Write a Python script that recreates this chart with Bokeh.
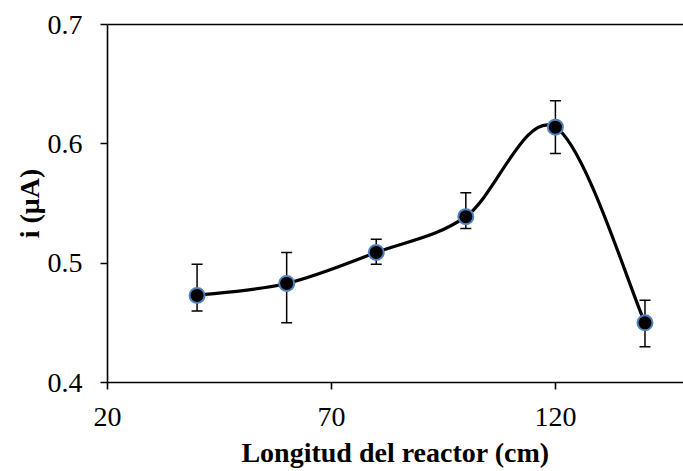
from bokeh.plotting import figure
from bokeh.models import ColumnDataSource, Whisker, TeeHead, LinearAxis, FixedTicker, Range1d
from bokeh.embed import file_html
from bokeh.resources import INLINE

# ---- data ----
longitud = [40, 60, 80, 100, 120, 140]
corriente = [0.473, 0.483, 0.509, 0.539, 0.614, 0.450]
err_sup = [0.499, 0.509, 0.520, 0.559, 0.636, 0.469]
err_inf = [0.460, 0.450, 0.499, 0.529, 0.592, 0.430]
x_ticks = [20, 70, 120]
y_ticks = [0.4, 0.5, 0.6, 0.7]
x_label = "Longitud del reactor (cm)"
y_label = "i (μA)"

FONT = "Liberation Serif"

p = figure(width=683, height=471, output_backend="svg", toolbar_location=None,
           x_range=Range1d(20, 148.6), y_range=Range1d(0.4, 0.7),
           min_border_left=107, min_border_right=0, min_border_top=24,
           min_border_bottom=89)
p.background_fill_color = "white"
p.border_fill_color = "white"
p.outline_line_color = None
p.grid.visible = False

# smooth (Catmull-Rom style) curve through the data points
n = len(longitud)
x0, y0, x1, y1, cx0, cy0, cx1, cy1 = [], [], [], [], [], [], [], []
for i in range(n - 1):
    ip = max(i - 1, 0)
    inn = min(i + 2, n - 1)
    x0.append(longitud[i]); y0.append(corriente[i])
    x1.append(longitud[i + 1]); y1.append(corriente[i + 1])
    cx0.append(longitud[i] + (longitud[i + 1] - longitud[ip]) / 6)
    cy0.append(corriente[i] + (corriente[i + 1] - corriente[ip]) / 6)
    cx1.append(longitud[i + 1] - (longitud[inn] - longitud[i]) / 6)
    cy1.append(corriente[i + 1] - (corriente[inn] - corriente[i]) / 6)

src = ColumnDataSource(dict(x=longitud, y=corriente, upper=err_sup, lower=err_inf))

w = Whisker(source=src, base="x", upper="upper", lower="lower",
            line_color="black", line_width=1.5, level="underlay",
            upper_head=TeeHead(size=11, line_color="black", line_width=1.5),
            lower_head=TeeHead(size=11, line_color="black", line_width=1.5))
p.add_layout(w)

p.bezier(x0=x0, y0=y0, x1=x1, y1=y1, cx0=cx0, cy0=cy0, cx1=cx1, cy1=cy1,
         line_color="black", line_width=3.2)

p.scatter("x", "y", source=src, size=15, fill_color="black",
          line_color="#4F81BD", line_width=2)

# axes styling
for ax in (p.xaxis[0], p.yaxis[0]):
    ax.axis_line_color = "black"
    ax.axis_line_width = 1.6
    ax.major_tick_line_color = "black"
    ax.major_tick_line_width = 1.6
    ax.major_tick_in = 0
    ax.major_tick_out = 7
    ax.minor_tick_line_color = None
    ax.major_label_text_font = FONT
    ax.major_label_text_font_size = "28px"
    ax.major_label_text_color = "black"
    ax.axis_label_text_font = FONT
    ax.axis_label_text_font_size = "28px"
    ax.axis_label_text_font_style = "bold"
    ax.axis_label_text_color = "black"

p.xaxis.ticker = FixedTicker(ticks=x_ticks)
p.yaxis.ticker = FixedTicker(ticks=y_ticks)
p.yaxis.major_label_overrides = {v: f"{v:.1f}" for v in y_ticks}
p.xaxis.axis_label = x_label
p.yaxis.axis_label = y_label
p.xaxis.major_label_standoff = 18
p.xaxis.axis_label_standoff = 8
p.yaxis.major_label_standoff = 18
p.yaxis.axis_label_standoff = 0

# top border line
top = LinearAxis(ticker=FixedTicker(ticks=[]), axis_line_color="black",
                 axis_line_width=1.6, major_tick_line_color=None,
                 minor_tick_line_color=None, major_label_text_font_size="0px",
                 major_label_standoff=0)
p.add_layout(top, "above")

open("out.html", "w").write(file_html(p, INLINE))
